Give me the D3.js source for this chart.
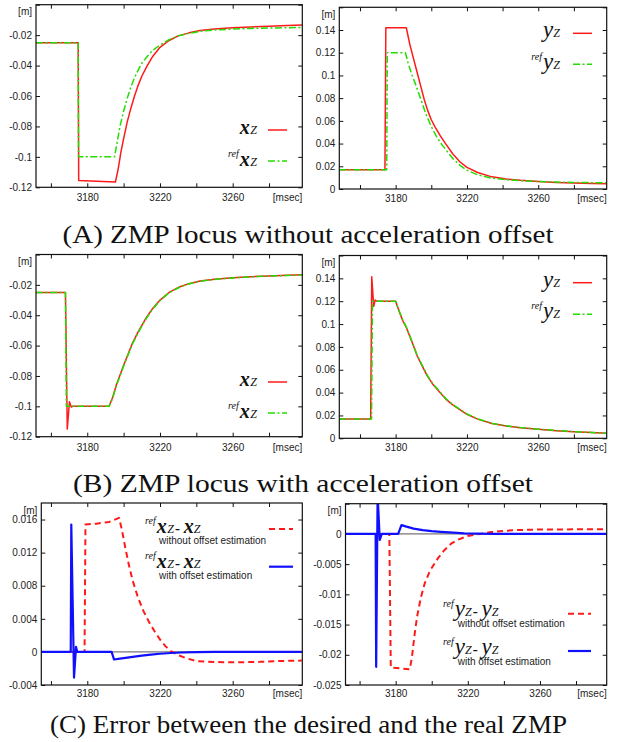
<!DOCTYPE html>
<html>
<head>
<meta charset="utf-8">
<script src="https://cdn.jsdelivr.net/npm/d3@7"></script>
<style>
  body { margin: 0; background: #fff; }
</style>
</head>
<body>
<div id="chart"></div>
<script>
// ---- data: [msec, m] ----
// (A) without acceleration offset
var aXZ = [[3151.8,-0.025],[3175,-0.025],[3175.3,-0.1155],[3195.5,-0.1165],[3197,-0.108],[3198.5,-0.097],[3200,-0.088],[3202,-0.077],[3204,-0.068],[3206,-0.060],[3208,-0.053],[3210,-0.047],[3213,-0.040],[3216,-0.034],[3220,-0.028],[3225,-0.0235],[3230,-0.0205],[3236,-0.0185],[3242,-0.0170],[3250,-0.0160],[3260,-0.0152],[3270,-0.0146],[3280,-0.0141],[3290,-0.0137],[3298.3,-0.0134]];
var aRefXZ = [[3151.8,-0.025],[3175,-0.025],[3175.2,-0.1],[3195,-0.1],[3196.5,-0.090],[3198,-0.080],[3200,-0.070],[3202,-0.0615],[3204,-0.054],[3206,-0.048],[3208,-0.043],[3210,-0.0385],[3213,-0.034],[3216,-0.030],[3220,-0.0265],[3225,-0.0230],[3230,-0.0205],[3236,-0.0188],[3242,-0.0175],[3250,-0.0166],[3260,-0.0160],[3270,-0.0156],[3280,-0.0153],[3290,-0.0151],[3298.3,-0.0149]];
var aYZ = [[3148.4,0.017],[3174,0.017],[3174.5,0.142],[3186,0.142],[3188,0.127],[3190,0.115],[3192,0.103],[3194,0.091],[3196,0.079],[3198,0.069],[3200,0.061],[3202,0.055],[3205,0.047],[3208,0.040],[3212,0.031],[3216,0.024],[3220,0.019],[3226,0.0145],[3234,0.0107],[3242,0.0088],[3250,0.0076],[3260,0.0066],[3270,0.0058],[3280,0.0053],[3290,0.0049],[3298.4,0.0047]];
var aRefYZ = [[3148.4,0.017],[3175,0.017],[3175.3,0.12],[3185.5,0.12],[3187,0.111],[3189,0.101],[3191,0.093],[3193,0.084],[3195,0.075],[3197,0.066],[3200,0.055],[3203,0.046],[3206,0.039],[3209,0.033],[3212,0.027],[3216,0.021],[3220,0.0165],[3226,0.0125],[3234,0.0095],[3242,0.0082],[3250,0.0073],[3260,0.0066],[3270,0.0061],[3280,0.0058],[3290,0.0056],[3298.4,0.0055]];

// (B) with acceleration offset
var bXZ = [[3151.8,-0.025],[3168,-0.025],[3169,-0.115],[3170.2,-0.097],[3171.2,-0.1005],[3172,-0.1],[3192,-0.1],[3194,-0.094],[3196,-0.086],[3198,-0.0795],[3200,-0.073],[3202,-0.067],[3205,-0.058],[3208,-0.051],[3212,-0.0425],[3216,-0.0355],[3220,-0.030],[3225,-0.025],[3231,-0.0212],[3236,-0.0192],[3242,-0.0175],[3250,-0.0163],[3260,-0.0153],[3270,-0.0146],[3280,-0.0141],[3290,-0.0137],[3298.3,-0.0134]];
var bRefXZ = [[3151.8,-0.025],[3168,-0.025],[3168.5,-0.1],[3192,-0.1],[3194,-0.0945],[3196,-0.0865],[3198,-0.080],[3200,-0.0735],[3202,-0.0675],[3205,-0.0585],[3208,-0.0515],[3212,-0.043],[3216,-0.036],[3220,-0.0303],[3225,-0.0253],[3231,-0.0214],[3236,-0.0193],[3242,-0.0176],[3250,-0.0164],[3260,-0.0154],[3270,-0.0147],[3280,-0.0142],[3290,-0.0138],[3298.3,-0.0135]];
var bYZ = [[3148.4,0.017],[3166,0.017],[3166.6,0.1415],[3167.7,0.1155],[3168.5,0.121],[3169.5,0.12],[3180,0.12],[3182,0.111],[3184,0.103],[3186,0.097],[3188,0.089],[3190,0.081],[3192,0.0725],[3195,0.063],[3198,0.054],[3201,0.047],[3204.4,0.041],[3208,0.0345],[3212,0.0292],[3216,0.025],[3220,0.021],[3226,0.0168],[3234,0.013],[3242,0.0107],[3250,0.0092],[3260,0.0079],[3270,0.0067],[3280,0.0057],[3290,0.005],[3298.4,0.0044]];
var bRefYZ = [[3148.4,0.017],[3166.5,0.017],[3167,0.12],[3180,0.12],[3182,0.1115],[3184,0.1035],[3186,0.0975],[3188,0.0895],[3190,0.0815],[3192,0.073],[3195,0.0635],[3198,0.0545],[3201,0.0475],[3204.4,0.0415],[3208,0.035],[3212,0.0296],[3216,0.0253],[3220,0.0213],[3226,0.017],[3234,0.0132],[3242,0.0109],[3250,0.0094],[3260,0.008],[3270,0.0068],[3280,0.0058],[3290,0.0051],[3298.4,0.0045]];

// (C) error ref - real
var cErrXNoEst = [[3154.7,0],[3178.5,0],[3179,0.0154],[3185,0.0155],[3192,0.0157],[3197.5,0.0162],[3199,0.0148],[3201,0.0125],[3203,0.0104],[3205,0.0086],[3208,0.0065],[3211,0.0049],[3214,0.0036],[3217,0.0025],[3220,0.0015],[3223,0.0007],[3226,0.0001],[3230,-0.0004],[3235,-0.0008],[3240,-0.0011],[3246,-0.0012],[3255,-0.00125],[3265,-0.00125],[3275,-0.0012],[3285,-0.0011],[3298,-0.00105]];
var cErrXEst = [[3154.7,0],[3170.9,0],[3171.2,0.0154],[3172.7,-0.0031],[3173.8,0.0006],[3174.5,0],[3193.4,0],[3194.7,-0.00092],[3198,-0.00082],[3202,-0.0007],[3206,-0.00058],[3210,-0.00045],[3215,-0.00033],[3220,-0.00022],[3226,-0.00013],[3232,-0.00007],[3240,-0.00003],[3250,0],[3298,0]];
var cErrYNoEst = [[3152.2,0],[3176.5,0],[3177.3,-0.0221],[3187.8,-0.0224],[3189,-0.0205],[3190.6,-0.0164],[3192,-0.0135],[3194,-0.0105],[3196.1,-0.0082],[3199,-0.0061],[3203.5,-0.0040],[3207,-0.0027],[3211,-0.00156],[3215,-0.0009],[3220,-0.00035],[3226.7,0],[3233,0.0003],[3240,0.0005],[3247.6,0.00065],[3260,0.00072],[3275,0.00075],[3292,0.00076],[3297,0.00076]];
var cErrYEst = [[3152.2,0],[3168.9,0],[3169.2,-0.022],[3170,0.0065],[3171.2,-0.001],[3172.3,0],[3181.4,0],[3183.2,0.00145],[3186,0.0012],[3190,0.00088],[3195,0.00062],[3200,0.00045],[3205,0.00033],[3212,0.0002],[3218,0.0001],[3225,0.00004],[3235,0],[3297,0]];

// ---- tick values / labels ----
var xTicks = [3160, 3180, 3200, 3220, 3240, 3260, 3280];
var xTickLabels = ["", "3180", "", "3220", "", "3260", ""];
var yTicksX = [-0.12, -0.1, -0.08, -0.06, -0.04, -0.02, 0];
var yLabelsX = ["-0.12", "-0.1", "-0.08", "-0.06", "-0.04", "-0.02", ""];
var yTicksY = [0, 0.02, 0.04, 0.06, 0.08, 0.1, 0.12, 0.14, 0.16];
var yLabelsY = ["0", "0.02", "0.04", "0.06", "0.08", "0.1", "0.12", "0.14", ""];
var yTicksEX = [-0.004, 0, 0.004, 0.008, 0.012, 0.016];
var yLabelsEX = ["-0.004", "0", "0.004", "0.008", "0.012", "0.016"];
var yTicksEY = [-0.025, -0.02, -0.015, -0.01, -0.005, 0, 0.005];
var yLabelsEY = ["-0.025", "-0.02", "-0.015", "-0.01", "-0.005", "0", ""];

var captions = [
  {text: "(A) ZMP locus without acceleration offset", x: 308, y: 243, w: 491},
  {text: "(B) ZMP locus with acceleration offset", x: 303, y: 492, w: 460},
  {text: "(C) Error between the desired and the real ZMP", x: 308.5, y: 733, w: 517}
];

var sans = "'Liberation Sans', Arial, sans-serif";
var serif = "'Liberation Serif', 'Times New Roman', serif";

var RED = "#ff1a1a", GREEN = "#22dd00", BLUE = "#1010ff";
var dashDot = "7,2.5,2,2.5";

// ---- panel layout ----
var panels = [
  {left: 36, right: 302.3, top: 4.7, bottom: 187.3, xDom: [3151.8, 3298.3], yDom: [-0.12, 0],
   yT: yTicksX, yL: yLabelsX, lblPad: 7,
   series: [{d: aXZ, c: RED, w: 1.5}, {d: aRefXZ, c: GREEN, w: 1.5, dash: dashDot}],
   legend: {type: "single", sym: "x", anchorX: 257, lineX: [268, 287], items: [{y: 134, ly: 130}, {y: 166, ly: 161, ref: true}]}},
  {left: 339.3, right: 606.7, top: 7.3, bottom: 189, xDom: [3148.4, 3298.4], yDom: [0, 0.16],
   yT: yTicksY, yL: yLabelsY, lblPad: 6,
   series: [{d: aYZ, c: RED, w: 1.5}, {d: aRefYZ, c: GREEN, w: 1.5, dash: dashDot}],
   legend: {type: "single", sym: "y", anchorX: 560, lineX: [573, 592], items: [{y: 37, ly: 33.3}, {y: 68.5, ly: 64.3, ref: true}]}},
  {left: 36, right: 302.3, top: 254.5, bottom: 436.7, xDom: [3151.8, 3298.3], yDom: [-0.12, 0],
   yT: yTicksX, yL: yLabelsX, lblPad: 7,
   series: [{d: bXZ, c: RED, w: 1.5}, {d: bRefXZ, c: GREEN, w: 1.5, dash: dashDot}],
   legend: {type: "single", sym: "x", anchorX: 257, lineX: [268, 287], items: [{y: 386, ly: 382}, {y: 418, ly: 413, ref: true}]}},
  {left: 339.3, right: 606.7, top: 255.5, bottom: 438.3, xDom: [3148.4, 3298.4], yDom: [0, 0.16],
   yT: yTicksY, yL: yLabelsY, lblPad: 6,
   series: [{d: bYZ, c: RED, w: 1.5}, {d: bRefYZ, c: GREEN, w: 1.5, dash: dashDot}],
   legend: {type: "single", sym: "y", anchorX: 560, lineX: [573, 592], items: [{y: 287, ly: 282.7}, {y: 318, ly: 314.3, ref: true}]}},
  {left: 41.3, right: 302.3, top: 503, bottom: 685, xDom: [3154.7, 3298.3], yDom: [-0.004, 0.018],
   yT: yTicksEX, yL: yLabelsEX, lblPad: 5, zero: true,
   series: [{d: cErrXNoEst, c: RED, w: 2, dash: "6,4"}, {d: cErrXEst, c: BLUE, w: 2.2}],
   legend: {type: "diff", sym: "x", anchorX: 145, subX: 159, lineX: [269, 293],
            items: [{y: 532.5, ly: 529, sy: 543.5, sub: "without offset estimation"}, {y: 567.5, ly: 566.7, sy: 579, sub: "with offset estimation"}]}},
  {left: 345.5, right: 606.7, top: 503.7, bottom: 685, xDom: [3152.2, 3297], yDom: [-0.025, 0.005],
   yT: yTicksEY, yL: yLabelsEY, lblPad: 5, zero: true,
   series: [{d: cErrYNoEst, c: RED, w: 2, dash: "6,4"}, {d: cErrYEst, c: BLUE, w: 2.2}],
   legend: {type: "diff", sym: "y", anchorX: 443, subX: 457.7, lineX: [568, 591],
            items: [{y: 616, ly: 613.7, sy: 626.5, sub: "without offset estimation"}, {y: 654, ly: 651, sy: 664.5, sub: "with offset estimation"}]}}
];

var svg = d3.select("#chart").append("svg")
    .attr("width", 617)
    .attr("height", 742)
    .style("display", "block");

// writes  [ref]x_Z  or  [ref]y_Z  into a text element
function symbol(t, sym, ref) {
  if (ref) {
    t.append("tspan").attr("font-size", 10).attr("font-style", "italic").attr("dy", -9).text("ref");
  }
  var m = t.append("tspan").attr("dy", ref ? 9 : 0).attr("dx", ref ? 1 : 0).attr("font-style", "italic").text(sym);
  if (sym === "x") m.attr("font-size", 20).attr("font-weight", "bold");
  else m.attr("font-size", 23);
  t.append("tspan").attr("font-size", 12).attr("font-style", "italic").attr("dx", sym === "y" ? 0 : 0.5).text("Z");
}

panels.forEach(function (p, pi) {
  var x = d3.scaleLinear().domain(p.xDom).range([p.left, p.right]);
  var y = d3.scaleLinear().domain(p.yDom).range([p.bottom, p.top]);
  var g = svg.append("g");

  svg.append("clipPath").attr("id", "clip" + pi)
    .append("rect").attr("x", p.left).attr("y", p.top)
    .attr("width", p.right - p.left).attr("height", p.bottom - p.top);

  // axes, gnuplot style: ticks inside on all four sides
  var axisStyle = function (sel) {
    sel.attr("font-family", sans).attr("font-size", 10).attr("color", "#222");
    sel.select(".domain").remove();
    sel.selectAll(".tick line").attr("stroke", "#111");
  };
  g.append("g").attr("transform", "translate(0," + p.bottom + ")")
    .call(d3.axisBottom(x).tickValues(xTicks).tickSize(-4).tickPadding(p.lblPad)
      .tickFormat(function (d, i) { return xTickLabels[i]; }))
    .call(axisStyle);
  g.append("g").attr("transform", "translate(0," + p.top + ")")
    .call(d3.axisTop(x).tickValues(xTicks).tickSize(-4).tickFormat(""))
    .call(axisStyle);
  g.append("g").attr("transform", "translate(" + p.left + ",0)")
    .call(d3.axisLeft(y).tickValues(p.yT).tickSize(-4).tickPadding(4)
      .tickFormat(function (d, i) { return p.yL[i]; }))
    .call(axisStyle);
  g.append("g").attr("transform", "translate(" + p.right + ",0)")
    .call(d3.axisRight(y).tickValues(p.yT).tickSize(-4).tickFormat(""))
    .call(axisStyle);

  // units
  g.append("text").attr("x", p.left - 4).attr("y", p.top + 7).attr("dy", "0.35em")
    .attr("text-anchor", "end").attr("font-family", sans).attr("font-size", 10).attr("fill", "#222")
    .text("[m]");
  g.append("text").attr("x", p.right).attr("y", p.bottom + p.lblPad).attr("dy", "0.71em")
    .attr("text-anchor", "end").attr("font-family", sans).attr("font-size", 10).attr("fill", "#222")
    .text("[msec]");

  if (p.zero) {
    g.append("line").attr("x1", p.left).attr("x2", p.right)
      .attr("y1", y(0)).attr("y2", y(0))
      .attr("stroke", "#555").attr("stroke-width", 1);
  }

  var line = d3.line().x(function (d) { return x(d[0]); }).y(function (d) { return y(d[1]); });

  g.append("g").attr("clip-path", "url(#clip" + pi + ")")
    .selectAll("path")
    .data(p.series)
    .enter()
    .append("path")
    .attr("d", function (s) { return line(s.d); })
    .attr("fill", "none")
    .attr("stroke", function (s) { return s.c; })
    .attr("stroke-width", function (s) { return s.w; })
    .attr("stroke-dasharray", function (s) { return s.dash || null; })
    .attr("stroke-linejoin", "round");

  // frame
  g.append("rect").attr("x", p.left).attr("y", p.top)
    .attr("width", p.right - p.left).attr("height", p.bottom - p.top)
    .attr("fill", "none").attr("stroke", "#111").attr("stroke-width", 1.2);

  // legend
  var L = p.legend;
  L.items.forEach(function (it, k) {
    var s = p.series[k];
    var t = g.append("text").attr("x", L.anchorX).attr("y", it.y)
      .attr("font-family", serif).attr("fill", "#111")
      .attr("text-anchor", L.type === "single" ? "end" : "start");
    if (L.type === "single") {
      symbol(t, L.sym, it.ref);
    } else {
      symbol(t, L.sym, true);
      t.append("tspan").attr("font-size", 15).attr("font-weight", "bold").attr("dx", 1).text("- ");
      var m = t.append("tspan").attr("font-style", "italic").text(L.sym);
      if (L.sym === "x") m.attr("font-size", 20).attr("font-weight", "bold");
      else m.attr("font-size", 23);
      t.append("tspan").attr("font-size", 12).attr("font-style", "italic").text("Z");
      g.append("text").attr("x", L.subX).attr("y", it.sy)
        .attr("font-family", sans).attr("font-size", 10).attr("fill", "#222")
        .text(it.sub);
    }
    g.append("line").attr("x1", L.lineX[0]).attr("x2", L.lineX[1])
      .attr("y1", it.ly).attr("y2", it.ly)
      .attr("stroke", s.c).attr("stroke-width", s.w)
      .attr("stroke-dasharray", s.dash || null);
  });
});

// captions
svg.selectAll(".caption")
  .data(captions)
  .enter()
  .append("text")
  .attr("class", "caption")
  .attr("x", function (d) { return d.x; })
  .attr("y", function (d) { return d.y; })
  .attr("text-anchor", "middle")
  .attr("font-family", serif)
  .attr("font-size", 25)
  .attr("fill", "#111")
  .attr("textLength", function (d) { return d.w; })
  .attr("lengthAdjust", "spacingAndGlyphs")
  .text(function (d) { return d.text; });
</script>
</body>
</html>
